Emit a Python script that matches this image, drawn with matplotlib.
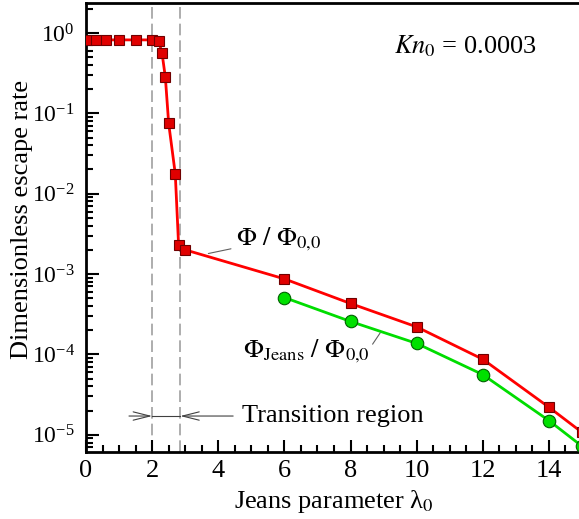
import matplotlib
matplotlib.use("Agg")
import matplotlib.pyplot as plt
from matplotlib.ticker import LogLocator, MultipleLocator, NullFormatter

plt.rcParams['font.family'] = ['Liberation Serif', 'DejaVu Serif']
plt.rcParams['mathtext.fontset'] = 'stix'

# data
lam_total = [0.0, 0.3, 0.6, 1.0, 1.5, 2.0, 2.2, 2.3, 2.4, 2.5, 2.7, 2.8, 3.0,
             6.0, 8.0, 10.0, 12.0, 14.0, 15.0]
phi_total = [0.82, 0.82, 0.82, 0.82, 0.82, 0.82, 0.79, 0.56, 0.28, 0.075,
             0.0176, 0.0023, 0.0020, 8.7e-4, 4.3e-4, 2.2e-4, 8.7e-5, 2.2e-5, 1.07e-5]

lam_jeans = [6.0, 8.0, 10.0, 12.0, 14.0, 15.0]
phi_jeans = [5.1e-4, 2.57e-4, 1.37e-4, 5.6e-5, 1.5e-5, 7.2e-6]

transition = [2.0, 2.85]

fs = 19

fig = plt.figure(figsize=(5.79, 5.19), dpi=100)
ax = fig.add_axes([86/579, 1 - 452/519, (582 - 86)/579, (452 - 3)/519])

ax.plot(lam_total, phi_total, color='#ff0000', lw=2, marker='s', ms=7,
        mfc='#e00000', mec='#700000', mew=0.8, zorder=5)
ax.plot(lam_jeans, phi_jeans, color='#00dd00', lw=2, marker='o', ms=9,
        mfc='#00e000', mec='#006000', mew=0.8, zorder=4)

for xv in transition:
    ax.axvline(xv, color='#a0a0a0', lw=1.2, ls=(0, (7, 3)), zorder=1)

ax.set_yscale('log')
ax.set_xlim(0, 15)
ax.set_ylim(6.1e-6, 2.36)

ax.xaxis.set_major_locator(MultipleLocator(2))
ax.xaxis.set_minor_locator(MultipleLocator(0.5))
ax.yaxis.set_major_locator(LogLocator(base=10, numticks=10))
ax.yaxis.set_minor_locator(LogLocator(base=10, subs=range(2, 10), numticks=10))
ax.yaxis.set_minor_formatter(NullFormatter())

ax.tick_params(which='both', direction='in', top=False, right=False, width=1.5)
ax.tick_params(which='major', length=9)
ax.tick_params(which='minor', length=5)
ax.tick_params(axis='x', labelsize=fs, pad=6)
ax.tick_params(axis='y', labelsize=17, pad=8)
for s in ax.spines.values():
    s.set_linewidth(2)

ax.set_xlabel('Jeans parameter λ$_0$', fontsize=fs, labelpad=4)
ax.set_ylabel('Dimensionless escape rate', fontsize=fs)
ax.yaxis.set_label_coords(-0.107, 0.517)

ax.text(0.764, 0.903, r'$Kn_0$ = 0.0003', transform=ax.transAxes,
        fontsize=fs, ha='center', va='center')

ax.annotate(r'$\Phi\ /\ \Phi_{0{,}0}$', xy=(3.7, 1.8e-3), xytext=(4.55, 2.75e-3),
            fontsize=fs, va='center',
            arrowprops=dict(arrowstyle='-', color='#606060', lw=0.8,
                            shrinkA=2, shrinkB=0))
ax.annotate(r'$\Phi_{\rm Jeans}\ /\ \Phi_{0{,}0}$', xy=(8.9, 1.86e-4),
            xytext=(4.75, 1.1e-4), fontsize=fs, va='center',
            arrowprops=dict(arrowstyle='-', color='#606060', lw=0.8,
                            shrinkA=0, shrinkB=0, relpos=(1.0, 0.6)))

yt = 1.71e-5
ax.plot(transition, [yt, yt], color='#404040', lw=0.8)
ax.annotate('', xy=(transition[0], yt), xytext=(1.3, yt),
            arrowprops=dict(arrowstyle='->,head_length=1.2,head_width=0.3',
                            color='#404040', lw=0.8, shrinkA=0, shrinkB=0))
ax.annotate('', xy=(transition[1], yt), xytext=(4.45, yt),
            arrowprops=dict(arrowstyle='->,head_length=1.2,head_width=0.3',
                            color='#404040', lw=0.8, shrinkA=0, shrinkB=0))
ax.text(4.72, yt, 'Transition region', fontsize=fs, va='center')

fig.savefig('out.png', dpi=100)
